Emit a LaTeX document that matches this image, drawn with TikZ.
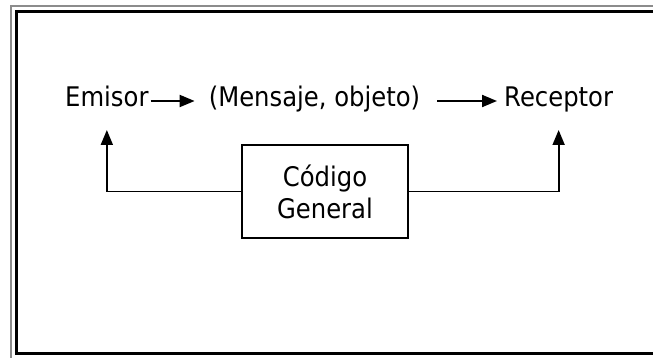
\documentclass[tikz,border=0pt]{standalone}
\usepackage{fontspec}
\setmainfont{DejaVu Sans}[FakeStretch=0.9]
\definecolor{marco}{HTML}{8C8C8C}
\usetikzlibrary{arrows.meta}
\usetikzlibrary{positioning}
\tikzset{
	texto/.style={inner sep=0pt, font=\fontsize{27}{32}\selectfont},
	flecha/.style={line width=2pt, -{Triangle[length=15pt,width=12pt]}},
	caja/.style={draw, line width=1.8pt, minimum width=166pt, minimum height=93pt,
		align=center, inner sep=0pt, font=\fontsize{27}{32}\selectfont}
}

\begin{document}
\begin{tikzpicture}[x=1pt,y=-1pt]
	\useasboundingbox (0,0) rectangle (653,358);
	%marco
	\draw[marco, line width=1.5pt] (11,358) -- (11,6) -- (653,6);
	\draw[line width=3pt] (653,12) -- (16,12) -- (16,353.8) -- (653,353.8);
	%fila de arriba
	\node[texto, anchor=base west] (emisor) at (65,107) {Emisor};
	\node[texto, anchor=base] (mensaje) at (314.5,107) {(Mensaje, objeto)};
	\node[texto, anchor=base west] (receptor) at (504,107) {Receptor};
	\draw[flecha] ([shift={(2pt,6pt)}]emisor.base east) -- ([shift={(-14pt,6pt)}]mensaje.base west);
	\draw[flecha] ([shift={(17pt,6pt)}]mensaje.base east) -- ([shift={(-7pt,6pt)}]receptor.base west);
	%codigo
	\node[caja] (codigo) at (325,191.5) {Código\\General};
	\draw[flecha, line width=1.8pt] (codigo.west) -| ([yshift=-23pt]emisor.base);
	\draw[flecha, line width=1.8pt] (codigo.east) -| ([yshift=-23pt]receptor.base);
\end{tikzpicture}
\end{document}
